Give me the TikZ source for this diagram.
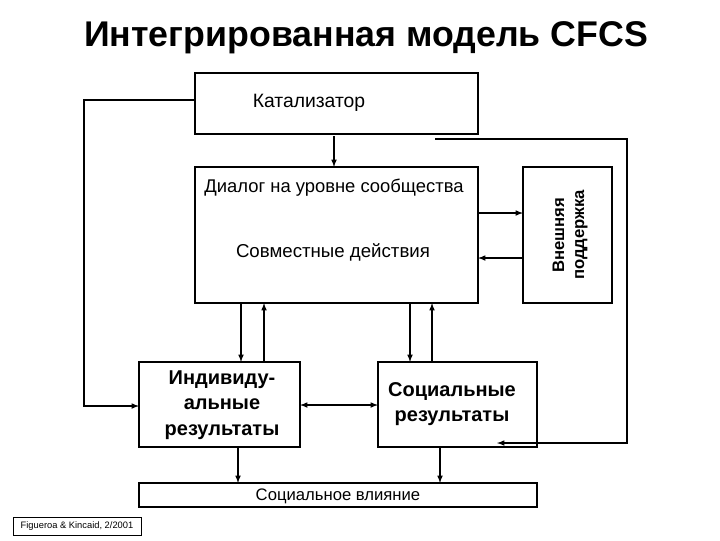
\documentclass[tikz,border=0pt]{standalone}
\usepackage{fontspec}
\setmainfont{Liberation Sans}
\begin{document}
\begin{tikzpicture}[x=0.75pt,y=-0.75pt,
 box/.style={draw,line width=1.2pt},
 ar/.style={-latex,line width=0.9pt},
 ln/.style={line width=0.9pt},
 txt/.style={font=\bfseries\fontsize{12.5}{15}\selectfont,align=center}]
\useasboundingbox (0,0) rectangle (720,540);
\node[font=\bfseries\fontsize{26.8}{30}\selectfont] (title) at (366,38) {Интегрированная модель CFCS};
\draw[box] (195,73) rectangle (478,134);
\node[font=\fontsize{14.5}{17}\selectfont] (cat) at (309,103) {Катализатор};
\coordinate (catL) at (195,100);
\coordinate (catB) at (334,136);
\coordinate (dlgT) at (334,167);
\draw[box] (195,167) rectangle (478,303);
\node[font=\fontsize{13.8}{16}\selectfont] (dlg) at (334,188) {Диалог на уровне сообщества};
\node[font=\fontsize{14}{16}\selectfont] (joint) at (333,252) {Совместные действия};
\draw[box] (523,167) rectangle (612,303);
\node[txt,rotate=90] (ext) at (570,235) {Внешняя\\поддержка};
\draw[box] (139,362) rectangle (300,447);
\node[txt,font=\bfseries\fontsize{15}{19}\selectfont] (ind) at (222,405) {Индивиду-\\альные\\результаты};
\draw[box] (378,362) rectangle (537,447);
\node[txt,font=\bfseries\fontsize{15}{19}\selectfont] (soc) at (452,404) {Социальные\\результаты};
\draw[box] (139,483) rectangle (537,507);
\node[font=\fontsize{12.5}{14}\selectfont] (inf) at (338,496) {Социальное влияние};
\draw[line width=0.5pt] (13,517) rectangle (141,535);
\node[font=\fontsize{7}{8}\selectfont] (ref) at (77,526) {Figueroa \& Kincaid, 2/2001};
% connectors
\draw[ar] (catB) -- (dlgT);
\draw[ar] (catL) -- (84,100) -- (84,406) -- (139,406);
\draw[ar] (435,139) -- (627,139) -- (627,443) -- (497,443);
\draw[ar] (478,213) -- (523,213);
\draw[ar] (523,258) -- (478,258);
\draw[ar] (241,303) -- (241,362);
\draw[ar] (264,362) -- (264,303);
\draw[ar] (410,303) -- (410,362);
\draw[ar] (432,362) -- (432,303);
\draw[latex-latex,line width=0.9pt] (300,405) -- (378,405);
\draw[ar] (238,447) -- (238,483);
\draw[ar] (440,447) -- (440,483);
\end{tikzpicture}
\end{document}
